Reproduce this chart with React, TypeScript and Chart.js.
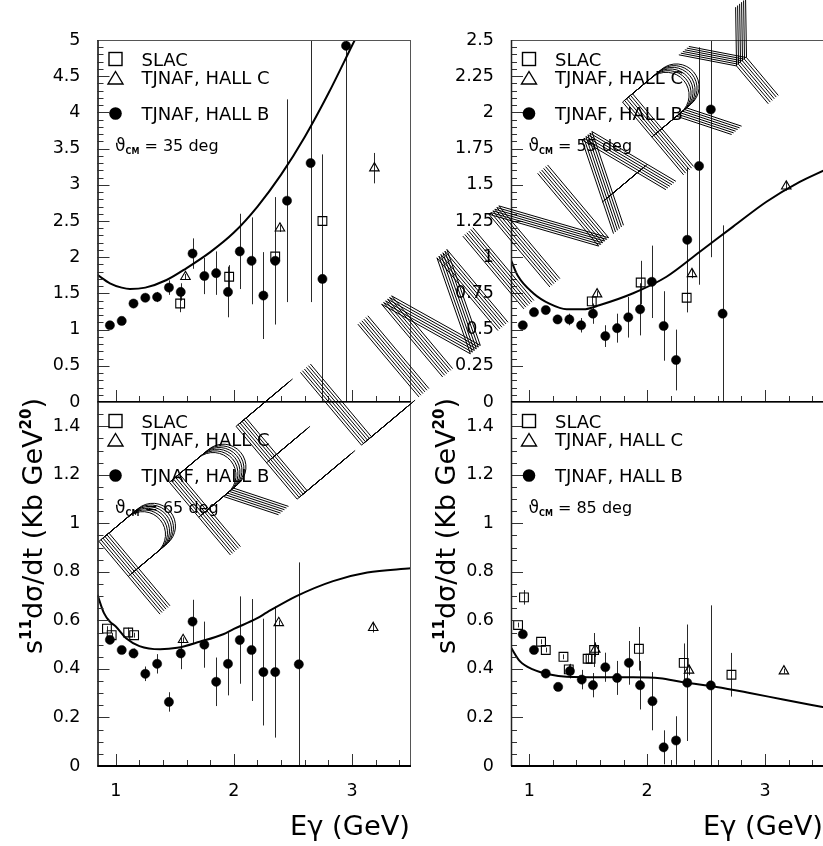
import React, { useEffect, useRef } from 'react';
import { Chart, registerables } from 'chart.js';

Chart.register(...registerables);

const FONT = '"DejaVu Sans", "Liberation Sans", Arial, sans-serif';

// ---------------- theta_CM = 35 deg ----------------
const hallB35X = [0.95, 1.05, 1.15, 1.25, 1.35, 1.45, 1.55, 1.65, 1.75, 1.85, 1.95, 2.05, 2.15, 2.25, 2.35, 2.45, 2.65, 2.75, 2.95];
const hallB35Y = [1.06, 1.12, 1.36, 1.44, 1.45, 1.58, 1.52, 2.05, 1.74, 1.78, 1.52, 2.08, 1.95, 1.47, 1.95, 2.78, 3.30, 1.70, 4.92];
const hallB35E = [0.03, 0.04, 0.05, 0.06, 0.07, 0.1, 0.12, 0.21, 0.25, 0.3, 0.35, 0.52, 0.6, 0.6, 0.88, 1.4, 1.92, 1.72, 5.0];
const hallC35X = [1.59, 2.39, 3.19];
const hallC35Y = [1.73, 2.40, 3.23];
const hallC35E = [0.04, 0.05, 0.21];
const slac35X = [1.545, 1.96, 2.35, 2.75];
const slac35Y = [1.36, 1.73, 2.01, 2.50];
const slac35E = [0.12, 0.16, 0.35, 0.5];
const theory35X = [0.845, 0.95, 1.05, 1.12, 1.25, 1.43, 1.6, 1.8, 2.0, 2.2, 2.4, 2.6, 2.8, 3.0, 3.1];
const theory35Y = [1.755, 1.64, 1.58, 1.56, 1.58, 1.685, 1.85, 2.07, 2.34, 2.70, 3.14, 3.66, 4.26, 4.92, 5.25];

// ---------------- theta_CM = 55 deg ----------------
const hallB55X = [0.945, 1.04, 1.14, 1.24, 1.34, 1.44, 1.54, 1.645, 1.745, 1.84, 1.94, 2.04, 2.14, 2.245, 2.34, 2.44, 2.54, 2.64];
const hallB55Y = [0.53, 0.62, 0.635, 0.57, 0.57, 0.53, 0.61, 0.455, 0.51, 0.585, 0.64, 0.83, 0.525, 0.29, 1.12, 1.63, 2.02, 0.61];
const hallB55E = [0.02, 0.02, 0.02, 0.03, 0.04, 0.05, 0.07, 0.075, 0.1, 0.14, 0.18, 0.25, 0.24, 0.21, 0.5, 0.82, 1.02, 0.61];
const hallC55X = [1.575, 2.38, 3.18];
const hallC55Y = [0.745, 0.885, 1.49];
const hallC55E = [0.02, 0.03, 0.03];
const slac55X = [1.53, 1.945, 2.335];
const slac55Y = [0.695, 0.825, 0.72];
const slac55E = [0.03, 0.15, 0.1];
const theory55X = [0.845, 0.9, 1.034, 1.175, 1.317, 1.458, 1.6, 1.881, 2.164, 2.447, 2.729, 3.012, 3.294, 3.5];
const theory55Y = [0.98, 0.875, 0.751, 0.677, 0.64, 0.64, 0.67, 0.751, 0.865, 1.038, 1.211, 1.383, 1.52, 1.6];

// ---------------- theta_CM = 65 deg ----------------
const hallB65X = [0.95, 1.05, 1.15, 1.25, 1.35, 1.45, 1.55, 1.65, 1.75, 1.85, 1.95, 2.05, 2.15, 2.25, 2.35, 2.55];
const hallB65Y = [0.52, 0.478, 0.464, 0.38, 0.421, 0.264, 0.464, 0.595, 0.50, 0.347, 0.421, 0.519, 0.478, 0.387, 0.387, 0.419];
const hallB65E = [0.01, 0.015, 0.02, 0.03, 0.04, 0.04, 0.065, 0.09, 0.095, 0.1, 0.13, 0.18, 0.21, 0.22, 0.27, 0.42];
const hallC65X = [1.57, 2.38, 3.18];
const hallC65Y = [0.52, 0.59, 0.57];
const hallC65E = [0.01, 0.01, 0.02];
const slac65X = [0.925, 0.965, 1.105, 1.155];
const slac65Y = [0.566, 0.539, 0.55, 0.539];
const slac65E = [0.01, 0.01, 0.02, 0.01];
const theory65X = [0.845, 0.9, 0.95, 1.0, 1.09, 1.2, 1.375, 1.52, 1.71, 1.91, 2.0, 2.19, 2.28, 2.53, 2.84, 3.13, 3.5];
const theory65Y = [0.705, 0.63, 0.595, 0.575, 0.525, 0.494, 0.481, 0.487, 0.512, 0.543, 0.565, 0.607, 0.633, 0.70, 0.762, 0.797, 0.815];

// ---------------- theta_CM = 85 deg ----------------
const hallB85X = [0.945, 1.04, 1.14, 1.245, 1.345, 1.445, 1.54, 1.645, 1.745, 1.845, 1.94, 2.045, 2.14, 2.245, 2.34, 2.54];
const hallB85Y = [0.543, 0.478, 0.381, 0.326, 0.391, 0.356, 0.333, 0.407, 0.363, 0.425, 0.333, 0.267, 0.077, 0.105, 0.343, 0.332];
const hallB85E = [0.01, 0.01, 0.015, 0.015, 0.03, 0.04, 0.05, 0.06, 0.07, 0.09, 0.1, 0.12, 0.07, 0.1, 0.24, 0.33];
const hallC85X = [1.56, 2.355, 3.16];
const hallC85Y = [0.48, 0.394, 0.391];
const hallC85E = [0.03, 0.02, 0.01];
const slac85X = [0.905, 0.955, 1.10, 1.14, 1.29, 1.335, 1.495, 1.52, 1.55, 1.93, 2.31, 2.715];
const slac85Y = [0.581, 0.695, 0.512, 0.478, 0.45, 0.398, 0.442, 0.442, 0.478, 0.483, 0.425, 0.376];
const slac85E = [0.01, 0.03, 0.01, 0.01, 0.01, 0.02, 0.02, 0.02, 0.07, 0.09, 0.08, 0.09];
const theory85X = [0.845, 0.92, 1.03, 1.175, 1.317, 1.6, 1.88, 2.108, 2.305, 2.588, 2.87, 3.153, 3.5];
const theory85Y = [0.488, 0.432, 0.398, 0.377, 0.368, 0.366, 0.366, 0.362, 0.345, 0.326, 0.301, 0.274, 0.242];

// ---------------- axes ----------------
const X_MIN = 0.845;
const X_MAX = 3.5;
const X_LABELS = [1, 2, 3];
const X_MINOR_STEP = 0.2;
const Y35_LABELS = [0, 0.5, 1, 1.5, 2, 2.5, 3, 3.5, 4, 4.5, 5];
const Y55_LABELS = [0, 0.25, 0.5, 0.75, 1, 1.25, 1.5, 1.75, 2, 2.25, 2.5];
const YLOW_LABELS = [0, 0.2, 0.4, 0.6, 0.8, 1, 1.2, 1.4];

const LEGEND_SLAC = 'SLAC';
const LEGEND_C = 'TJNAF, HALL C';
const LEGEND_B = 'TJNAF, HALL B';
const X_TITLE = 'E\u03b3 (GeV)';

const pts = (xs: number[], ys: number[]) => xs.map((x, i) => ({ x, y: ys[i] }));

const decorPlugin = {
  id: 'decor',
  beforeDatasetsDraw(chart: any) {
    const { ctx, chartArea: a, scales } = chart;
    const xs = scales.x, ys = scales.y;
    ctx.save();
    ctx.beginPath();
    ctx.rect(a.left, a.top, a.right - a.left, a.bottom - a.top);
    ctx.clip();
    ctx.strokeStyle = '#2a2a2a';
    ctx.lineWidth = 1;
    chart.data.datasets.forEach((ds: any) => {
      if (!ds.errY) return;
      ds.data.forEach((p: any, i: number) => {
        const e = ds.errY[i];
        if (!e) return;
        const px = Math.round(xs.getPixelForValue(p.x)) + 0.5;
        ctx.beginPath();
        ctx.moveTo(px, ys.getPixelForValue(p.y - e));
        ctx.lineTo(px, ys.getPixelForValue(p.y + e));
        ctx.stroke();
      });
    });
    ctx.restore();
  },
  afterDraw(chart: any, _args: any, o: any) {
    const { ctx, chartArea: a, scales } = chart;
    const xs = scales.x, ys = scales.y;
    ctx.save();
    // inner ticks
    ctx.strokeStyle = '#333';
    ctx.lineWidth = 1;
    const tickY = (v: number, len: number) => {
      const py = Math.round(ys.getPixelForValue(v)) + 0.5;
      ctx.beginPath();
      ctx.moveTo(a.left, py);
      ctx.lineTo(a.left + len, py);
      ctx.stroke();
    };
    const tickX = (v: number, len: number) => {
      const px = Math.round(xs.getPixelForValue(v)) + 0.5;
      ctx.beginPath();
      ctx.moveTo(px, a.bottom);
      ctx.lineTo(px, a.bottom - len);
      ctx.stroke();
    };
    for (let k = 0; k * o.yMinorStep <= ys.max + 1e-9; k++) tickY(k * o.yMinorStep, 6);
    o.yMajor.forEach((v: number) => tickY(v, 12));
    for (let k = Math.ceil(xs.min / X_MINOR_STEP); k * X_MINOR_STEP <= xs.max; k++) tickX(k * X_MINOR_STEP, 6);
    X_LABELS.forEach((v) => tickX(v, 12));

    // frame
    ctx.strokeStyle = '#555';
    ctx.lineWidth = 1;
    ctx.strokeRect(a.left + 0.5, a.top + 0.5, a.right - a.left - 1, a.bottom - a.top - 1);
    ctx.strokeStyle = '#222';
    ctx.lineWidth = 1.5;
    ctx.beginPath();
    ctx.moveTo(a.left + 0.5, a.top);
    ctx.lineTo(a.left + 0.5, a.bottom);
    ctx.stroke();
    ctx.strokeStyle = '#000';
    ctx.lineWidth = 2;
    ctx.beginPath();
    ctx.moveTo(a.left, a.bottom);
    ctx.lineTo(a.right, a.bottom);
    ctx.stroke();

    // legend
    const lx = a.left + 18;
    const tx = a.left + 44;
    const t = a.top;
    ctx.fillStyle = '#000';
    ctx.strokeStyle = '#000';
    ctx.lineWidth = 1.4;
    ctx.strokeRect(lx - 6.5, t + 12.5, 13, 13);
    ctx.beginPath();
    ctx.moveTo(lx, t + 31.5);
    ctx.lineTo(lx + 7.5, t + 44);
    ctx.lineTo(lx - 7.5, t + 44);
    ctx.closePath();
    ctx.stroke();
    ctx.beginPath();
    ctx.arc(lx, t + 73.5, 6.3, 0, Math.PI * 2);
    ctx.fill();
    ctx.font = `18px ${FONT}`;
    ctx.textAlign = 'left';
    ctx.textBaseline = 'alphabetic';
    ctx.fillText(LEGEND_SLAC, tx, t + 25.5);
    ctx.fillText(LEGEND_C, tx, t + 44);
    ctx.fillText(LEGEND_B, tx, t + 80);

    // theta label
    let cx = a.left + 17.5;
    const by = t + 111;
    ctx.font = `17px ${FONT}`;
    ctx.fillText('\u03d1', cx, by);
    cx += ctx.measureText('\u03d1').width;
    ctx.font = `bold 8px ${FONT}`;
    ctx.fillText('CM', cx, by + 3);
    cx += ctx.measureText('CM').width;
    ctx.font = `16px ${FONT}`;
    ctx.fillText(` = ${o.theta} deg`, cx, by);

    // axis titles
    if (o.titles) {
      ctx.save();
      ctx.translate(a.left - 56, a.top - 4);
      ctx.rotate(-Math.PI / 2);
      const segs: [string, string][] = [
        ['s', `27px ${FONT}`],
        ['11', `bold 15px ${FONT}`],
        ['d\u03c3/dt (Kb GeV', `27px ${FONT}`],
        ['20', `bold 15px ${FONT}`],
        [')', `27px ${FONT}`],
      ];
      let total = 0;
      segs.forEach(([s, f]) => { ctx.font = f; total += ctx.measureText(s).width; });
      let px = -total;
      segs.forEach(([s, f]) => {
        ctx.font = f;
        const sup = f.indexOf('15px') >= 0;
        ctx.fillText(s, px, sup ? -11 : 0);
        px += ctx.measureText(s).width;
      });
      ctx.restore();

      ctx.save();
      ctx.translate(a.right - 1, a.bottom + 69);
      ctx.scale(1.05, 1);
      ctx.font = `26px ${FONT}`;
      ctx.textAlign = 'right';
      ctx.fillText(X_TITLE, 0, 0);
      ctx.restore();
    }
    ctx.restore();
  },
};

type PanelDef = {
  box: { left: number; top: number; width: number; height: number };
  padTop: number;
  yAxisW: number;
  xAxisH: number;
  yMax: number;
  yLabels: number[];
  yMinorStep: number;
  bottom: boolean;
  theta: string;
  b: [number[], number[], number[]];
  c: [number[], number[], number[]];
  s: [number[], number[], number[]];
  th: [number[], number[]];
};

const PANELS: PanelDef[] = [
  {
    box: { left: 0, top: 0, width: 420, height: 413 }, padTop: 40, yAxisW: 97.5, xAxisH: 11,
    yMax: 5, yLabels: Y35_LABELS, yMinorStep: 0.1, bottom: false, theta: '35',
    b: [hallB35X, hallB35Y, hallB35E], c: [hallC35X, hallC35Y, hallC35E], s: [slac35X, slac35Y, slac35E], th: [theory35X, theory35Y],
  },
  {
    box: { left: 413, top: 0, width: 420, height: 413 }, padTop: 40, yAxisW: 98, xAxisH: 11,
    yMax: 2.5, yLabels: Y55_LABELS, yMinorStep: 0.05, bottom: false, theta: '55',
    b: [hallB55X, hallB55Y, hallB55E], c: [hallC55X, hallC55Y, hallC55E], s: [slac55X, slac55Y, slac55E], th: [theory55X, theory55Y],
  },
  {
    box: { left: 0, top: 391, width: 420, height: 455 }, padTop: 11, yAxisW: 97.5, xAxisH: 80,
    yMax: 1.5, yLabels: YLOW_LABELS, yMinorStep: 0.05, bottom: true, theta: '65',
    b: [hallB65X, hallB65Y, hallB65E], c: [hallC65X, hallC65Y, hallC65E], s: [slac65X, slac65Y, slac65E], th: [theory65X, theory65Y],
  },
  {
    box: { left: 413, top: 391, width: 420, height: 455 }, padTop: 11, yAxisW: 98, xAxisH: 80,
    yMax: 1.5, yLabels: YLOW_LABELS, yMinorStep: 0.05, bottom: true, theta: '85',
    b: [hallB85X, hallB85Y, hallB85E], c: [hallC85X, hallC85Y, hallC85E], s: [slac85X, slac85Y, slac85E], th: [theory85X, theory85Y],
  },
];

function buildConfig(p: PanelDef): any {
  const tickFont = { family: FONT, size: 17.5 };
  return {
    type: 'scatter',
    data: {
      datasets: [
        {
          label: 'HALL B', data: pts(p.b[0], p.b[1]), errY: p.b[2], order: 0,
          pointStyle: 'circle', pointRadius: 4.6, backgroundColor: '#000', borderColor: '#000', borderWidth: 0.5,
        },
        {
          label: 'HALL C', data: pts(p.c[0], p.c[1]), errY: p.c[2], order: 1,
          pointStyle: 'triangle', pointRadius: 5.5, backgroundColor: 'rgba(0,0,0,0)', borderColor: '#000', borderWidth: 1.1,
        },
        {
          label: 'SLAC', data: pts(p.s[0], p.s[1]), errY: p.s[2], order: 2,
          pointStyle: 'rect', pointRadius: 6.2, backgroundColor: 'rgba(0,0,0,0)', borderColor: '#000', borderWidth: 1.1,
        },
        {
          label: 'theory', data: pts(p.th[0], p.th[1]), order: 3, showLine: true,
          borderColor: '#000', borderWidth: 2, pointRadius: 0, cubicInterpolationMode: 'monotone', fill: false,
        },
      ],
    },
    options: {
      animation: false,
      responsive: true,
      maintainAspectRatio: false,
      events: [],
      layout: { autoPadding: false, padding: { top: p.padTop, right: 9, left: 0, bottom: 0 } },
      plugins: {
        legend: { display: false },
        tooltip: { enabled: false },
        decor: { theta: p.theta, yMajor: p.yLabels, yMinorStep: p.yMinorStep, titles: p.bottom },
      },
      scales: {
        x: {
          type: 'linear', min: X_MIN, max: X_MAX,
          afterBuildTicks: (s: any) => { s.ticks = X_LABELS.map((v) => ({ value: v })); },
          afterFit: (s: any) => { s.height = p.xAxisH; },
          ticks: { display: p.bottom, font: tickFont, color: '#000', padding: 15, autoSkip: false, maxRotation: 0, callback: (v: any) => String(v) },
          grid: { display: false, drawTicks: false },
          border: { display: false },
        },
        y: {
          type: 'linear', min: 0, max: p.yMax,
          afterBuildTicks: (s: any) => { s.ticks = p.yLabels.map((v) => ({ value: v })); },
          afterFit: (s: any) => { s.width = p.yAxisW; },
          ticks: { font: tickFont, color: '#000', padding: 0, autoSkip: false, callback: (v: any) => String(v) },
          grid: { display: true, drawOnChartArea: false, drawTicks: true, tickLength: 17, color: 'rgba(0,0,0,0)' },
          border: { display: false },
        },
      },
    },
    plugins: [decorPlugin],
  };
}

function Panel({ def }: { def: PanelDef }) {
  const ref = useRef<HTMLCanvasElement>(null);
  useEffect(() => {
    const chart = new Chart(ref.current as HTMLCanvasElement, buildConfig(def));
    return () => chart.destroy();
  }, [def]);
  return (
    <div style={{ position: 'absolute', left: def.box.left, top: def.box.top, width: def.box.width, height: def.box.height }}>
      <canvas ref={ref} />
    </div>
  );
}

// ---------------- "PRELIMINARY" watermark (stroke font, hatched bundles) ----------------
const WM_TEXT = ['P', 'R', 'E', 'L', 'I', 'M', 'I', 'N', 'A', 'R', 'Y'];
const WM_ADVANCE = [0, 92, 179, 263, 338, 369, 475, 509, 592, 683.5, 757];

function bowl(): number[][] {
  const out: number[][] = [[0, 1], [0.4, 1]];
  for (let i = 1; i < 16; i++) {
    const ang = Math.PI / 2 - (Math.PI * i) / 16;
    out.push([0.4 + 0.24 * Math.cos(ang), 0.76 + 0.24 * Math.sin(ang)]);
  }
  out.push([0.4, 0.52], [0, 0.52]);
  return out;
}

const GLYPHS: Record<string, number[][][]> = {
  P: [[[0, 0], [0, 1]], bowl()],
  R: [[[0, 0], [0, 1]], bowl(), [[0.34, 0.52], [0.66, 0]]],
  E: [[[0, 0], [0, 1]], [[0, 1], [0.64, 1]], [[0, 0.5], [0.46, 0.5]], [[0, 0], [0.66, 0]]],
  L: [[[0, 1], [0, 0], [0.6, 0]]],
  I: [[[0, 0], [0, 1]]],
  M: [[[0, 0], [0, 1], [0.38, 0], [0.76, 1], [0.76, 0]]],
  N: [[[0, 0], [0, 1], [0.67, 0], [0.67, 1]]],
  A: [[[0, 0], [0.38, 0.97], [0.72, 0]], [[0.12, 0.33], [0.6, 0.33]]],
  Y: [[[0, 1], [0.39, 0.52], [0.78, 1]], [[0.39, 0.52], [0.39, 0]]],
};

function drawWatermark(ctx: CanvasRenderingContext2D) {
  const O = [165, 610];
  const ang = (-40 * Math.PI) / 180;
  const H = 95;
  const bx = Math.cos(ang), by = Math.sin(ang);
  const ux = by, uy = -bx;
  ctx.strokeStyle = '#000';
  ctx.lineWidth = 1;
  ctx.lineJoin = 'round';
  WM_TEXT.forEach((ch, li) => {
    const s0 = WM_ADVANCE[li];
    GLYPHS[ch].forEach((poly) => {
      for (let k = 0; k < 6; k++) {
        const off = (k - 2.5) * 2.6;
        ctx.beginPath();
        poly.forEach(([gx, gy], i) => {
          const s = s0 + gx * H + off;
          const px = O[0] + s * bx + gy * H * ux;
          const py = O[1] + s * by + gy * H * uy;
          if (i === 0) ctx.moveTo(px, py);
          else ctx.lineTo(px, py);
        });
        ctx.stroke();
      }
    });
  });
}

function Watermark() {
  const ref = useRef<HTMLCanvasElement>(null);
  useEffect(() => {
    const c = ref.current as HTMLCanvasElement;
    const dpr = window.devicePixelRatio || 1;
    c.width = 823 * dpr;
    c.height = 846 * dpr;
    const ctx = c.getContext('2d') as CanvasRenderingContext2D;
    ctx.setTransform(dpr, 0, 0, dpr, 0, 0);
    ctx.clearRect(0, 0, 823, 846);
    drawWatermark(ctx);
  }, []);
  return (
    <canvas
      ref={ref}
      style={{ position: 'absolute', left: 0, top: 0, width: 823, height: 846, pointerEvents: 'none' }}
    />
  );
}

export default function App() {
  return (
    <div style={{ position: 'absolute', left: 0, top: 0, width: 823, height: 846, overflow: 'hidden', background: '#fff' }}>
      {PANELS.map((d, i) => (
        <Panel key={i} def={d} />
      ))}
      <Watermark />
    </div>
  );
}
